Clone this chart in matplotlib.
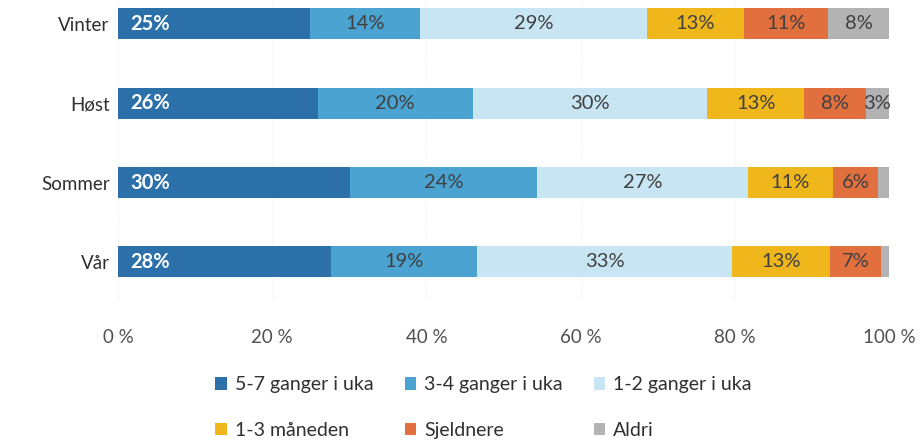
import matplotlib.pyplot as plt
import numpy as np

plt.rcParams['font.family'] = ['Lato', 'DejaVu Sans']

seasons = ['Vår', 'Sommer', 'Høst', 'Vinter']
series = ['5-7 ganger i uka', '3-4 ganger i uka', '1-2 ganger i uka',
          '1-3 måneden', 'Sjeldnere', 'Aldri']

# percent per season, order matches seasons (bottom to top)
s_57 = [27.6, 30.1, 25.9, 24.9]
s_34 = [19.0, 24.2, 20.1, 14.3]
s_12 = [33.0, 27.4, 30.4, 29.4]
s_13m = [12.7, 11.0, 12.6, 12.6]
s_sjeld = [6.7, 5.9, 8.0, 10.9]
s_aldri = [1.0, 1.4, 3.0, 7.9]

values = [s_57, s_34, s_12, s_13m, s_sjeld, s_aldri]
colors = ['#2b70a9', '#4aa3d0', '#c8e5f3', '#f0b71c', '#e2703f', '#b3b3b3']
text_colors = ['white', '#404040', '#404040', '#404040', '#404040', '#404040']
min_label = 2.5

fig = plt.figure(figsize=(9.21, 4.43), dpi=100)
ax = fig.add_axes([118 / 921, 143 / 443, (889 - 118) / 921, 300 / 443])

y = np.arange(len(seasons))
left = np.zeros(len(seasons))
handles = []
for vals, col, tc, name in zip(values, colors, text_colors, series):
    vals = np.array(vals)
    b = ax.barh(y, vals, left=left, height=0.39, color=col, label=name, zorder=2)
    handles.append(b)
    for yi, v, l in zip(y, vals, left):
        if v >= min_label:
            if col == colors[0]:
                ax.text(l + 1.6, yi, f'{round(v)}%', ha='left', va='center',
                        color=tc, fontsize=14.5, fontweight='bold')
            else:
                ax.text(l + v / 2, yi, f'{round(v)}%', ha='center', va='center',
                        color=tc, fontsize=14.5)
    left += vals

ax.set_xlim(0, 100)
ax.set_ylim(-0.48, 3.30)
ax.set_yticks(y)
ax.set_yticklabels(seasons, fontsize=13.5, color='#303030')
ax.set_xticks([0, 20, 40, 60, 80, 100])
ax.set_xticklabels(['0 %', '20 %', '40 %', '60 %', '80 %', '100 %'],
                   fontsize=13.5, color='#505050')
ax.tick_params(axis='x', length=0, pad=21)
ax.tick_params(axis='y', length=0, pad=6)
for s in ax.spines.values():
    s.set_visible(False)
ax.xaxis.grid(True, color='#ececec', linestyle=':', linewidth=0.8, zorder=0)

# legend filled column-wise, arrange so rows read like the reference
order = [0, 3, 1, 4, 2, 5]
fig.legend([handles[i] for i in order], [series[i] for i in order],
           loc='center', bbox_to_anchor=(0.525, 0.08), ncol=3, frameon=False,
           fontsize=14, handlelength=0.6, handleheight=0.6, handletextpad=0.4,
           columnspacing=1.6, labelspacing=1.45, labelcolor='#303030')

fig.savefig('out.png', dpi=100)
